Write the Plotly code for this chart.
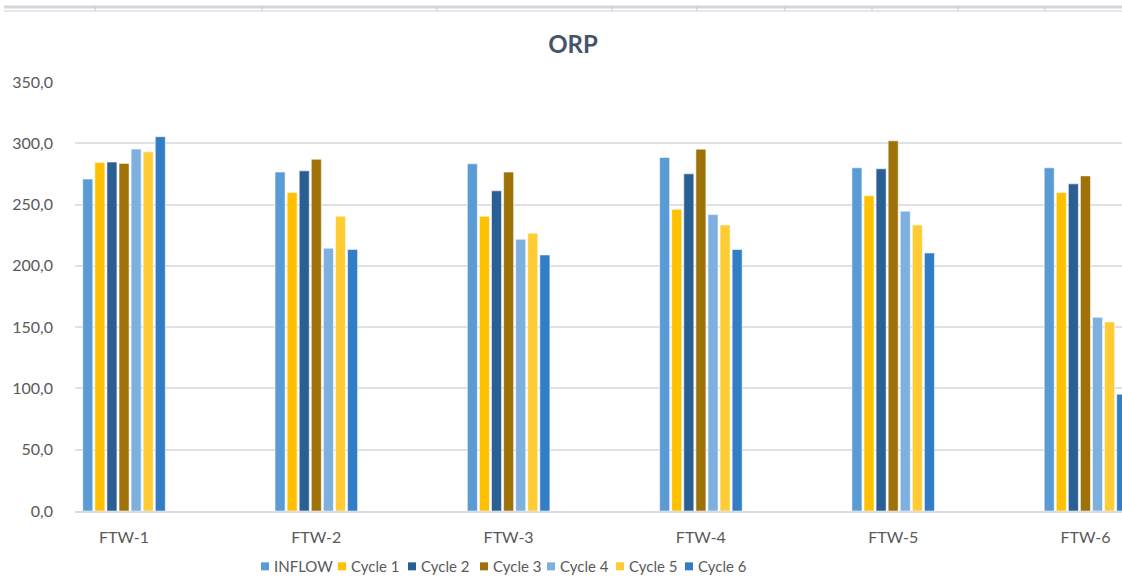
import plotly.graph_objects as go

categories = ["FTW-1", "FTW-2", "FTW-3", "FTW-4", "FTW-5", "FTW-6"]
series_names = ["INFLOW", "Cycle 1", "Cycle 2", "Cycle 3", "Cycle 4", "Cycle 5", "Cycle 6"]

inflow = [270.8, 276.5, 283.3, 288.4, 280.0, 280.0]
cycle1 = [284.4, 259.8, 240.5, 246.2, 257.1, 259.8]
cycle2 = [284.7, 277.5, 261.2, 275.1, 279.2, 266.9]
cycle3 = [283.6, 287.0, 276.5, 295.2, 302.0, 273.4]
cycle4 = [295.3, 214.4, 221.7, 241.8, 244.6, 158.0]
cycle5 = [293.0, 240.5, 226.6, 233.4, 233.4, 154.2]
cycle6 = [305.4, 213.3, 208.9, 213.3, 210.5, 95.3]

colors = ["#5B9BD5", "#FFC000", "#2A5F93", "#9E7209", "#7DB0DF", "#FFCD33", "#317DC6"]
values = [inflow, cycle1, cycle2, cycle3, cycle4, cycle5, cycle6]

fig = go.Figure()
for name, vals, col in zip(series_names, values, colors):
    fig.add_trace(go.Bar(
        x=categories, y=vals, name=name, showlegend=False,
        marker=dict(color=col, line=dict(color="rgba(255,255,255,0.55)", width=1)),
    ))

# plot area in window pixels: x 75..1122, y 82..510.7
W, H = 1122, 576
L, R, T = 75, 0, 82
B = H - 510.7
pw, ph = W - L - R, H - T - B


def px_x(p):
    # window pixel -> paper x
    return (p - L) / pw


def px_y(p):
    # window pixel -> paper y
    return (H - B - p) / ph


# spreadsheet strip at the very top
shapes = [
    dict(type="line", xref="paper", yref="paper", x0=px_x(4), x1=px_x(1122),
         y0=px_y(7), y1=px_y(7), line=dict(color="#D4D6D9", width=3)),
    dict(type="line", xref="paper", yref="paper", x0=px_x(4), x1=px_x(1122),
         y0=px_y(11), y1=px_y(11), line=dict(color="#E3E8EF", width=2)),
]
for tx in [95, 262, 437, 612, 697, 785, 872, 958, 1045]:
    shapes.append(dict(type="line", xref="paper", yref="paper", x0=px_x(tx), x1=px_x(tx),
                       y0=px_y(6), y1=px_y(11), line=dict(color="#C8CBCF", width=1)))

# hand-made legend (compact, like the spreadsheet one)
legend_x = [261, 338, 408, 480, 547, 616, 685]
annotations = []
for lx, name, col in zip(legend_x, series_names, colors):
    shapes.append(dict(type="rect", xref="paper", yref="paper",
                       x0=px_x(lx), x1=px_x(lx + 8), y0=px_y(570), y1=px_y(562),
                       fillcolor=col, line=dict(width=0)))
    annotations.append(dict(text=name, xref="paper", yref="paper", x=px_x(lx + 11),
                            y=px_y(566), xanchor="left", yanchor="middle", showarrow=False,
                            font=dict(size=15, color="#595959")))

fig.update_layout(
    width=W, height=H,
    margin=dict(l=L, r=R, t=T, b=B, autoexpand=False),
    plot_bgcolor="white", paper_bgcolor="white",
    separators=", ",
    font=dict(family="Lato, Open Sans, sans-serif", size=16, color="#595959"),
    title=dict(text="<b>ORP</b>", x=573 / W, xanchor="center",
               y=1 - 45 / H, yanchor="middle",
               font=dict(size=24, color="#44546A")),
    barmode="group", bargap=0.56, bargroupgap=0.17,
    shapes=shapes, annotations=annotations,
)
fig.update_xaxes(range=[-0.255, 5.19], showgrid=False, showline=True, linecolor="#D9DDE3",
                 linewidth=2, ticks="", ticklabelstandoff=11, automargin=False)
fig.update_yaxes(range=[0, 350], dtick=50, tickformat=".1f", showgrid=True,
                 gridcolor="#DEE2E8", gridwidth=2, zeroline=False, ticks="",
                 ticklabelstandoff=21, showline=False, automargin=False)

# drop the default 8px page margin so the figure fills the window
fig.write_html("out.html", config={"displayModeBar": False},
               post_script="document.body.style.margin='0';document.body.style.overflow='hidden';")
